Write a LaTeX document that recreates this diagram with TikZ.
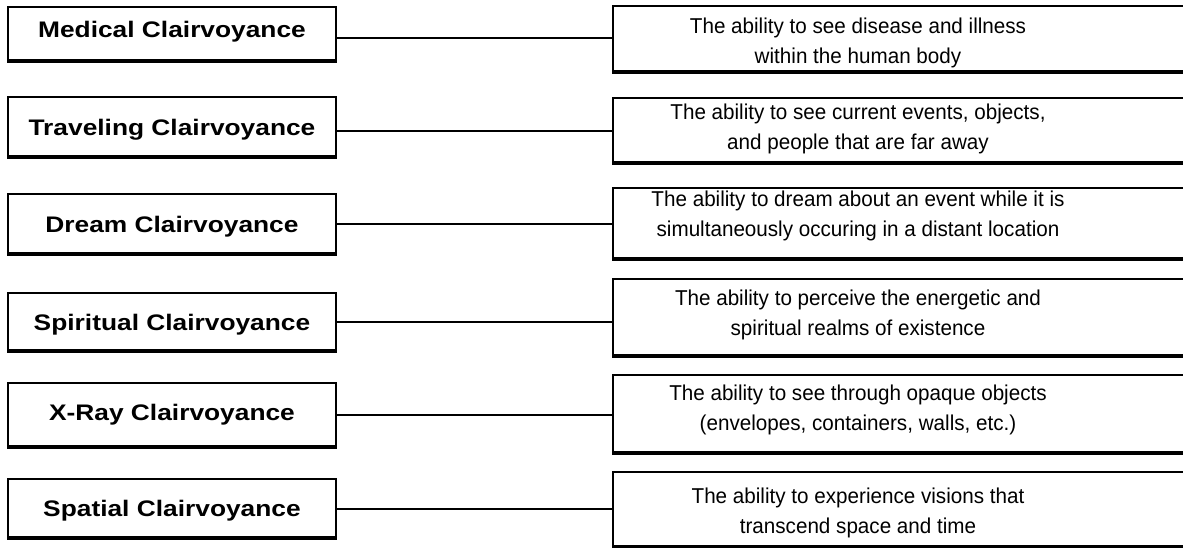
\documentclass[tikz,border=0pt]{standalone}
\usepackage{fontspec}
\setmainfont{Liberation Sans}
\newfontfamily\lftfont[FakeStretch=1.17]{Liberation Sans}
\newfontfamily\rgtfont[FakeStretch=0.96]{Liberation Sans}
\begin{document}
\begin{tikzpicture}[x=1pt,y=-1pt,
  lbox/.style={draw, line width=2pt, rectangle, minimum width=328pt, inner sep=0pt},
  rbox/.style={draw, line width=2pt, rectangle, minimum width=579pt, inner sep=0pt},
  ltext/.style={anchor=base, inner sep=0pt, font=\lftfont\bfseries\fontsize{22.5}{27}\selectfont},
  rtext/.style={anchor=base, inner sep=0pt, align=center, font=\rgtfont\fontsize{21.5}{30}\selectfont},
  conn/.style={line width=2pt},
  bottomedge/.style={line width=3pt}
]
\useasboundingbox (0,0) rectangle (1183,547);
\fill[white] (0,0) rectangle (1183,547);

% left boxes
\node[lbox, minimum height=53pt] (L1) at (172,33.5) {};
\node[lbox, minimum height=59pt] (L2) at (172,126.5) {};
\node[lbox, minimum height=59pt] (L3) at (172,223.5) {};
\node[lbox, minimum height=57pt] (L4) at (172,321.5) {};
\node[lbox, minimum height=63pt] (L5) at (172,414.5) {};
\node[lbox, minimum height=58pt] (L6) at (172,508) {};

% right boxes
\node[rbox, minimum height=65pt] (R1) at (902.5,38.5) {};
\node[rbox, minimum height=64pt] (R2) at (902.5,130) {};
\node[rbox, minimum height=70pt] (R3) at (902.5,223) {};
\node[rbox, minimum height=76pt] (R4) at (902.5,317) {};
\node[rbox, minimum height=77pt] (R5) at (902.5,413.5) {};
\node[rbox, minimum height=74pt] (R6) at (902.5,509) {};

% heavier bottom edges
\foreach \n in {L1,L2,L3,L4,L5,L6,R1,R2,R3,R4,R5,R6}
  \draw[bottomedge] (\n.south west) -- (\n.south east);

% left texts
\node[ltext] (T1) at (172,37.7) {Medical Clairvoyance};
\node[ltext] (T2) at (172,135) {Traveling Clairvoyance};
\node[ltext] (T3) at (172,232.7) {Dream Clairvoyance};
\node[ltext] (T4) at (172,330) {Spiritual Clairvoyance};
\node[ltext] (T5) at (172,420.7) {X-Ray Clairvoyance};
\node[ltext] (T6) at (172,516.7) {Spatial Clairvoyance};

% right texts (base anchor = baseline of the last line)
\node[rtext] (D1) at (858,63.3) {The ability to see disease and illness\\within the human body};
\node[rtext] (D2) at (858,149) {The ability to see current events, objects,\\and people that are far away};
\node[rtext] (D3) at (858,236.7) {The ability to dream about an event while it is\\simultaneously occuring in a distant location};
\node[rtext] (D4) at (858,335) {The ability to perceive the energetic and\\spiritual realms of existence};
\node[rtext] (D5) at (858,430) {The ability to see through opaque objects\\(envelopes, containers, walls, etc.)};
\node[rtext] (D6) at (858,533) {The ability to experience visions that\\transcend space and time};

% connector heights
\coordinate (c1) at (0,38);
\coordinate (c2) at (0,131);
\coordinate (c3) at (0,224);
\coordinate (c4) at (0,322);
\coordinate (c5) at (0,415);
\coordinate (c6) at (0,509);

\draw[conn] (L1.east |- c1) -- (R1.west |- c1);
\draw[conn] (L2.east |- c2) -- (R2.west |- c2);
\draw[conn] (L3.east |- c3) -- (R3.west |- c3);
\draw[conn] (L4.east |- c4) -- (R4.west |- c4);
\draw[conn] (L5.east |- c5) -- (R5.west |- c5);
\draw[conn] (L6.east |- c6) -- (R6.west |- c6);
\end{tikzpicture}
\end{document}
